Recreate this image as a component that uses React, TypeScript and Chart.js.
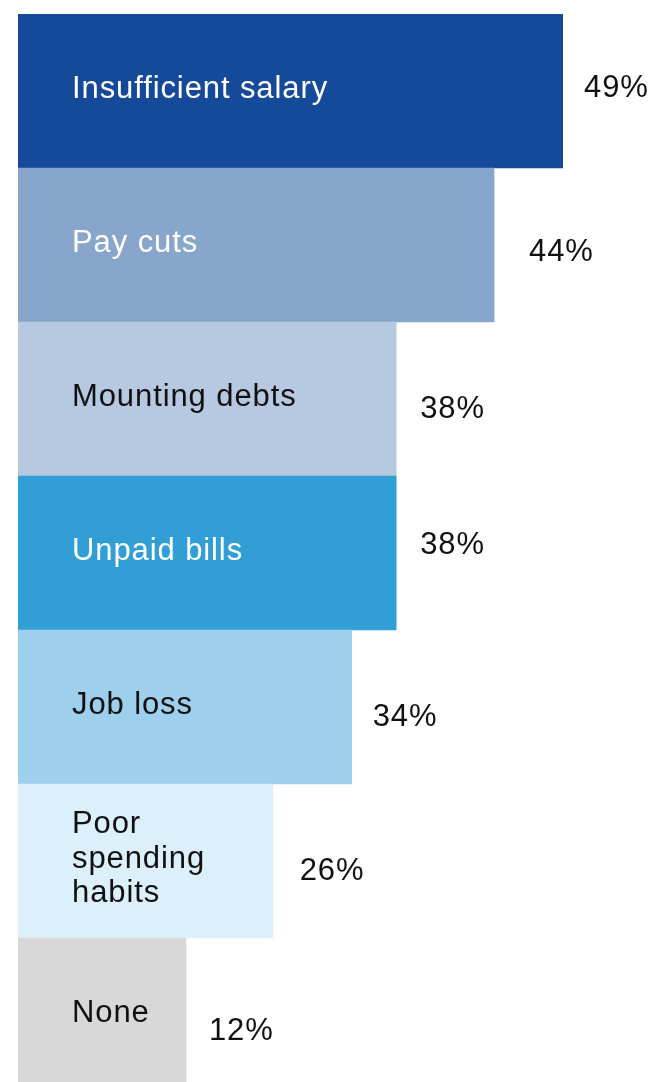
import React, { useEffect, useRef } from "react";
import { Chart, registerables } from "chart.js";

Chart.register(...registerables);

// ---- data ----
const categories: string[][] = [
  ["Insufficient salary"],
  ["Pay cuts"],
  ["Mounting debts"],
  ["Unpaid bills"],
  ["Job loss"],
  ["Poor", "spending", "habits"],
  ["None"],
];
// percentages printed next to each bar
const shares: number[] = [49, 44, 38, 38, 34, 26, 12];
// bar lengths as drawn in the graphic (not to scale with the labels), in percent-points
const barLengths: number[] = [49, 42.8, 34, 34, 30, 22.9, 15.1];

// ---- styles ----
const barColors = ["#154A9A", "#88A5CB", "#B7C8E1", "#319FD6", "#9ECFEC", "#DBF0FA", "#D8D8D8"];
const labelColors = ["#FFFFFF", "#FFFFFF", "#111111", "#FFFFFF", "#111111", "#111111", "#111111"];
const valueNudge = [
  { dx: 21, dy: -5 },
  { dx: 35, dy: 5 },
  { dx: 24, dy: 8 },
  { dx: 24, dy: -10 },
  { dx: 21, dy: 8 },
  { dx: 27, dy: 8 },
  { dx: 23, dy: 14 },
];
const FONT_SIZE = 31;
const FONT = `${FONT_SIZE}px "Liberation Sans", Arial, Helvetica, sans-serif`;
const LETTER_SPACING = "0.9px";
const LABEL_INSET = 54;
const LINE_HEIGHT = 34.7;

const labelPlugin = {
  id: "barTexts",
  afterDatasetsDraw(chart: any) {
    const ctx = chart.ctx as CanvasRenderingContext2D;
    const meta = chart.getDatasetMeta(0);
    const area = chart.chartArea;
    ctx.save();
    ctx.font = FONT;
    (ctx as any).letterSpacing = LETTER_SPACING;
    ctx.textBaseline = "alphabetic";
    ctx.textAlign = "left";
    const capHalf = FONT_SIZE * 0.716 / 2;
    meta.data.forEach((bar: any, i: number) => {
      const cy = bar.y;
      // category label inside the bar
      const lines = categories[i];
      ctx.fillStyle = labelColors[i];
      const firstBase = cy + 6.5 - ((lines.length - 1) * LINE_HEIGHT) / 2;
      lines.forEach((ln, k) => {
        ctx.fillText(ln, area.left + LABEL_INSET, firstBase + k * LINE_HEIGHT);
      });
      // value label
      ctx.fillStyle = "#111111";
      const n = valueNudge[i];
      ctx.fillText(`${shares[i]}%`, bar.x + n.dx, cy + n.dy + capHalf);
    });
    ctx.restore();
  },
};

export default function App() {
  const ref = useRef<HTMLCanvasElement | null>(null);

  useEffect(() => {
    if (!ref.current) return;
    const chart = new Chart(ref.current, {
      type: "bar",
      data: {
        labels: categories.map((c) => c.join(" ")),
        datasets: [
          {
            data: barLengths,
            backgroundColor: barColors,
            borderWidth: 0,
            categoryPercentage: 1,
            barPercentage: 1,
          },
        ],
      },
      options: {
        indexAxis: "y",
        responsive: false,
        animation: false,
        events: [],
        layout: { padding: { left: 18, right: 88, top: 14, bottom: 0 } },
        plugins: {
          legend: { display: false },
          tooltip: { enabled: false },
          title: { display: false },
        },
        scales: {
          x: { display: false, min: 0, max: 49 },
          y: { display: false },
        },
      },
      plugins: [labelPlugin],
    });
    return () => chart.destroy();
  }, []);

  return (
    <div
      style={{
        position: "absolute",
        left: 0,
        top: 0,
        width: 651,
        height: 1082,
        overflow: "hidden",
        background: "#ffffff",
      }}
    >
      <canvas ref={ref} width={651} height={1092} style={{ display: "block", width: 651, height: 1092 }} />
    </div>
  );
}
